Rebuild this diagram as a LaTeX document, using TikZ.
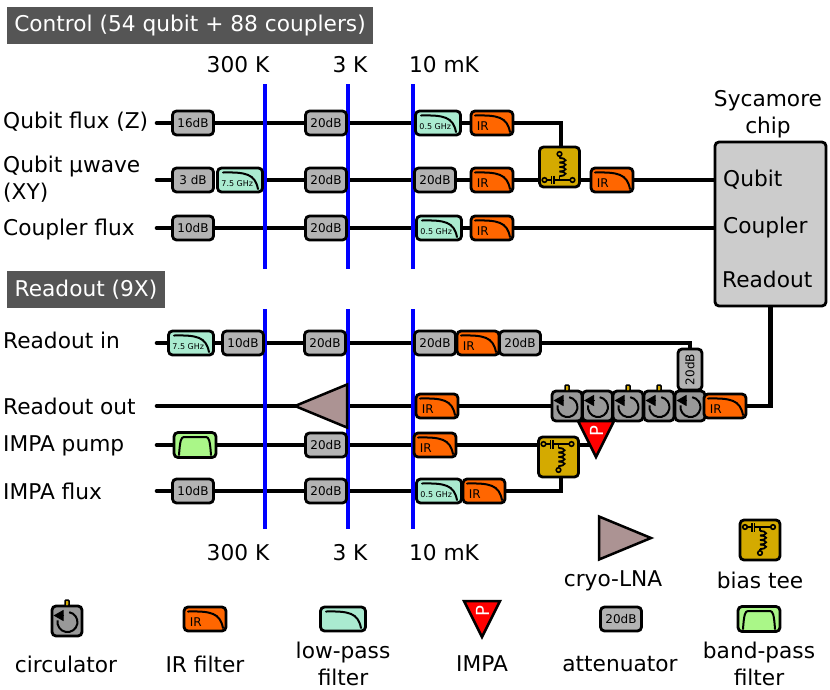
\documentclass[tikz,border=0pt]{standalone}
\usepackage{fontspec}
\setmainfont{DejaVu Sans}
\usepackage{amsmath}
\usetikzlibrary{arrows.meta,backgrounds,shapes.geometric}

\definecolor{irorange}{HTML}{FF6600}
\definecolor{lowmint}{HTML}{AAEBD0}
\definecolor{bandgreen}{HTML}{AAF788}
\definecolor{attgray}{HTML}{B3B3B3}
\definecolor{circgray}{HTML}{999999}
\definecolor{teegold}{HTML}{D4AA00}
\definecolor{lnamauve}{HTML}{AC9393}
\definecolor{chipgray}{HTML}{CCCCCC}
\definecolor{headgray}{HTML}{555555}

\newcommand{\teeglyph}{
    \draw[line width=1.8pt] (-15,13) -- (-8,13);
    \draw[line width=1.8pt] (-8,8.5) -- (-8,17);
    \draw[line width=1.8pt] (-5.5,8.5) -- (-5.5,17);
    \draw[line width=1.8pt] (-5.5,13) -- (13,13);
    \draw[line width=1.8pt] (0,-13) -- (0,-9);
    \draw[line width=1.8pt] (0,9) -- (0,13);
    \foreach \coilstep in {-9,-4.5,0,4.5} {
        \draw[line width=1.8pt] (0,\coilstep) arc[start angle=-90, end angle=90, x radius=6, y radius=2.25];
    }
    \draw[line width=1.6pt, fill=teegold] (-15,13) circle[radius=2.3];
    \draw[line width=1.6pt, fill=teegold] (13,13) circle[radius=2.3];
    \draw[line width=1.6pt, fill=teegold] (0,-13) circle[radius=2.3];
}

\tikzset{
    wire/.style={line width=4.6pt, line cap=round, line join=miter, black},
    cryoline/.style={line width=4pt, blue},
    partbox/.style={draw=black, line width=2.8pt, rounded corners=4pt, inner sep=0pt, outer sep=0pt},
    attbox/.style={partbox, fill=attgray, minimum width=41pt, minimum height=24pt, font={\fontsize{12}{12}\selectfont}},
    filtercurve/.style={path picture={
        \begin{scope}[shift={(path picture bounding box.center)}]
            \draw[line width=2pt, line cap=round] (-17,-7.5) .. controls (6,-8) and (15,-6) .. (18,9);
        \end{scope}}},
    irbox/.style={partbox, fill=irorange, filtercurve, minimum width=42pt, minimum height=24pt,
        label={[name=\tikzlastnode text, inner sep=0pt, xshift=-9.3pt, yshift=-2.7pt, font={\fontsize{12}{12}\selectfont}]center:IR}},
    lowbox/.style={partbox, fill=lowmint, filtercurve, minimum width=45pt, minimum height=24pt},
    lowtextbox/.style={lowbox,
        label={[name=\tikzlastnode text, inner sep=0pt, xshift=-2.7pt, yshift=-4pt, font={\fontsize{8}{8}\selectfont}]center:#1}},
    bandbox/.style={partbox, fill=bandgreen, minimum width=42pt, minimum height=25pt, path picture={
        \begin{scope}[shift={(path picture bounding box.center)}]
            \draw[line width=2pt, line cap=round] (-16,10) .. controls (-15,-4) and (-14,-8) .. (-7,-8) -- (7,-8) .. controls (14,-8) and (15,-4) .. (16,10);
        \end{scope}}},
    circbox/.style={partbox, fill=circgray, minimum width=30pt, minimum height=30pt, path picture={
        \begin{scope}[shift={(path picture bounding box.center)}]
            \draw[line width=2pt] (2.2,-8.8) arc[start angle=-80, end angle=190, radius=10];
            \draw[line width=1pt, -{Triangle[length=10pt, width=11pt]}] (-3,-5.5) -- (-13.5,-5.5);
        \end{scope}}},
    nubbox/.style={draw=black, line width=1.5pt, fill=teegold, rounded corners=1pt, inner sep=0pt, outer sep=0pt, minimum width=4pt, minimum height=6pt},
    teebox/.style={partbox, fill=teegold, minimum width=40pt, minimum height=40pt, path picture={
        \begin{scope}[shift={(path picture bounding box.center)}]
            \teeglyph
        \end{scope}}},
    teeflipbox/.style={partbox, fill=teegold, minimum width=40pt, minimum height=40pt, path picture={
        \begin{scope}[shift={(path picture bounding box.center)}, y=1pt]
            \teeglyph
        \end{scope}}},
    lnatri/.style={draw=black, line width=2.5pt, fill=lnamauve, isosceles triangle, isosceles triangle stretches, inner sep=0pt, outer sep=0pt, minimum height=52pt, minimum width=43pt, shape border rotate=#1},
    impatri/.style={draw=black, line width=2.5pt, fill=red, isosceles triangle, isosceles triangle stretches, inner sep=0pt, outer sep=0pt, minimum height=36pt, minimum width=36pt, shape border rotate=270},
    impap/.style={text=white, rotate=90, inner sep=0pt, font={\fontsize{18}{18}\selectfont}},
    chipbox/.style={partbox, fill=chipgray, minimum width=111pt, minimum height=164pt},
    headbox/.style={fill=headgray, text=white, inner sep=0pt, font={\fontsize{21.7}{22}\selectfont}},
    sidelabel/.style={anchor=west, inner sep=0pt, align=left, font={\fontsize{21.7}{27}\selectfont}},
    legendlabel/.style={inner sep=0pt, align=center, font={\fontsize{21.7}{27}\selectfont}}
}

\begin{document}
\begin{tikzpicture}[x=1pt, y=-1pt]
        \useasboundingbox (0, 0) rectangle (830, 689);

        \node[headbox, minimum width=366pt, minimum height=37pt] (headControl) at (190, 25.5) {Control (54 qubit + 88 couplers)};
        \node[headbox, minimum width=158pt, minimum height=37pt] (headReadout) at (86, 289.5) {Readout (9X)};

        \node[legendlabel] (topWarm) at (238, 65) {300 K};
        \node[legendlabel] (topMid) at (350, 65) {3 K};
        \node[legendlabel] (topCold) at (444, 65) {10 mK};
        \node[legendlabel] (botWarm) at (238, 553) {300 K};
        \node[legendlabel] (botMid) at (350, 553) {3 K};
        \node[legendlabel] (botCold) at (444, 553) {10 mK};

        \node[sidelabel] (nameZ) at (3, 122) {Qubit flux (Z)};
        \node[sidelabel] (nameXY) at (3, 179.5) {Qubit µwave\\(XY)};
        \node[sidelabel] (nameC) at (3, 229.5) {Coupler flux};
        \node[sidelabel] (nameIn) at (3, 340) {Readout in};
        \node[sidelabel] (nameOut) at (3, 406) {Readout out};
        \node[sidelabel] (namePump) at (3, 445.5) {IMPA pump};
        \node[sidelabel] (nameFlux) at (3, 491) {IMPA flux};

        \coordinate (startZ) at (157, 123);
        \coordinate (startXY) at (157, 180);
        \coordinate (startC) at (157, 228);
        \coordinate (startIn) at (157, 343);
        \coordinate (startOut) at (157, 406);
        \coordinate (startPump) at (157, 445);
        \coordinate (startFlux) at (157, 491);

        \node[attbox] (attZa) at (193, 123) {16dB};
        \node[attbox] (attZb) at (326, 123) {20dB};
        \node[lowtextbox=0.5 GHz] (lowZ) at (438, 123) {};
        \node[irbox] (irZ) at (492, 123) {};

        \node[attbox] (attXa) at (193, 180) {3 dB};
        \node[lowtextbox=7.5 GHz] (lowX) at (240, 180) {};
        \node[attbox] (attXb) at (326, 180) {20dB};
        \node[attbox] (attXc) at (435, 180) {20dB};
        \node[irbox] (irXa) at (492, 180) {};
        \node[teebox] (teeX) at (559.5, 167) {};
        \coordinate (teeXtop) at (561, 147);
        \coordinate (teeXin) at (539, 180);
        \coordinate (teeXout) at (579, 180);
        \node[irbox] (irXb) at (612, 180) {};

        \node[attbox] (attCa) at (193, 228) {10dB};
        \node[attbox] (attCb) at (326, 228) {20dB};
        \node[lowtextbox=0.5 GHz] (lowC) at (439, 228) {};
        \node[irbox] (irC) at (492, 228) {};

        \node[chipbox] (chip) at (770.5, 224) {};
        \node[legendlabel] (chipName) at (768, 114) {Sycamore\\chip};
        \node[sidelabel] (chipQubit) at (723, 180) {Qubit};
        \node[sidelabel] (chipCoupler) at (723, 228) {Coupler};
        \node[sidelabel] (chipReadout) at (722, 279) {Readout};

        \node[lowtextbox=7.5 GHz] (lowI) at (191, 343) {};
        \node[attbox] (attIa) at (243, 343) {10dB};
        \node[attbox] (attIb) at (325, 343) {20dB};
        \node[attbox] (attIc) at (435, 343) {20dB};
        \node[irbox] (irI) at (478, 343) {};
        \node[attbox] (attId) at (520, 343) {20dB};
        \node[attbox, rotate=90] (attIe) at (690, 369.5) {20dB};

        \node[lnatri=180, anchor=apex] (lnaO) at (295, 406) {};
        \node[irbox] (irOa) at (437, 406) {};
        \node[circbox] (circA) at (567, 406) {};
        \node[circbox] (circB) at (597.5, 406) {};
        \node[circbox] (circC) at (628, 406) {};
        \node[circbox] (circD) at (659, 406) {};
        \node[circbox] (circE) at (690, 406) {};
        \node[nubbox, anchor=south] (nubA) at (567, 391) {};
        \node[nubbox, anchor=south] (nubC) at (628, 391) {};
        \node[nubbox, anchor=south] (nubD) at (659, 391) {};
        \node[irbox] (irOb) at (725, 406) {};

        \node[bandbox] (bandP) at (195, 445) {};
        \node[attbox] (attP) at (326, 445) {20dB};
        \node[irbox] (irP) at (435, 445) {};
        \node[teeflipbox] (teeP) at (558.5, 457) {};
        \coordinate (teePbot) at (561, 477);
        \coordinate (teePin) at (539, 445);
        \coordinate (teePout) at (578, 445);
        \node[impatri, anchor=apex] (impaO) at (596, 457) {};
        \node[impap] (impaOp) at (596.5, 431) {P};
        \coordinate (impaIn) at (590, 445);

        \node[attbox] (attFa) at (193, 491) {10dB};
        \node[attbox] (attFb) at (326, 491) {20dB};
        \node[lowtextbox=0.5 GHz] (lowF) at (439, 491) {};
        \node[irbox] (irF) at (484, 491) {};

        \node[lnatri=0, anchor=apex] (lnaKey) at (651, 538) {};
        \node[legendlabel] (lnaName) at (613, 581) {cryo-LNA};
        \node[teeflipbox] (teeKey) at (760, 540) {};
        \node[legendlabel] (teeName) at (760, 580) {bias tee};
        \node[circbox] (circKey) at (67, 621) {};
        \node[nubbox, anchor=south] (nubKey) at (67, 606) {};
        \node[legendlabel] (circName) at (66, 664) {circulator};
        \node[irbox] (irKey) at (205, 619) {};
        \node[legendlabel] (irName) at (205, 664) {IR filter};
        \node[lowbox] (lowKey) at (343, 619) {};
        \node[legendlabel] (lowName) at (343, 663.5) {low-pass\\filter};
        \node[impatri, anchor=apex] (impaKey) at (482, 637) {};
        \node[impap] (impaKeyp) at (482.5, 611) {P};
        \node[legendlabel] (impaName) at (482, 664) {IMPA};
        \node[attbox] (attKey) at (621, 619) {20dB};
        \node[legendlabel] (attName) at (620, 664) {attenuator};
        \node[bandbox] (bandKey) at (759, 619) {};
        \node[legendlabel] (bandName) at (759, 663.5) {band-pass\\filter};

        \coordinate (warmTop) at (265, 84);
        \coordinate (warmUp) at (265, 269);
        \coordinate (warmDown) at (265, 309);
        \coordinate (warmBot) at (265, 529);
        \coordinate (midTop) at (348, 84);
        \coordinate (midUp) at (348, 269);
        \coordinate (midDown) at (348, 309);
        \coordinate (midBot) at (348, 529);
        \coordinate (coldTop) at (413, 84);
        \coordinate (coldUp) at (413, 269);
        \coordinate (coldDown) at (413, 309);
        \coordinate (coldBot) at (413, 529);

        \begin{scope}[on background layer]
            \draw[wire] (startZ) -- (attZa);
            \draw[wire] (attZa) -- (attZb);
            \draw[wire] (attZb) -- (lowZ);
            \draw[wire] (lowZ) -- (irZ);
            \draw[wire] (irZ) -| (teeXtop);

            \draw[wire] (startXY) -- (attXa);
            \draw[wire] (lowX) -- (attXb);
            \draw[wire] (attXb) -- (attXc);
            \draw[wire] (attXc) -- (irXa);
            \draw[wire] (irXa) -- (teeXin);
            \draw[wire] (teeXout) -- (irXb);
            \draw[wire] (irXb) -- (irXb -| chip.west);

            \draw[wire] (startC) -- (attCa);
            \draw[wire] (attCa) -- (attCb);
            \draw[wire] (attCb) -- (lowC);
            \draw[wire] (lowC) -- (irC);
            \draw[wire] (irC) -- (irC -| chip.west);

            \draw[wire] (startIn) -- (lowI);
            \draw[wire] (lowI) -- (attIa);
            \draw[wire] (attIa) -- (attIb);
            \draw[wire] (attIb) -- (attIc);
            \draw[wire] (attId) -| (attIe);
            \draw[wire] (attIe) -- (circE);

            \draw[wire] (startOut) -- (lnaO.apex);
            \draw[wire] (lnaO) -- (irOa);
            \draw[wire] (irOa) -- (circA);
            \draw[wire] (irOb) -| (chip.south);

            \draw[wire] (startPump) -- (bandP);
            \draw[wire] (bandP) -- (attP);
            \draw[wire] (attP) -- (irP);
            \draw[wire] (irP) -- (teePin);
            \draw[wire] (teePout) -- (impaIn);

            \draw[wire] (startFlux) -- (attFa);
            \draw[wire] (attFa) -- (attFb);
            \draw[wire] (attFb) -- (lowF);
            \draw[wire] (irF) -| (teePbot);

            \draw[cryoline] (warmTop) -- (warmUp);
            \draw[cryoline] (warmDown) -- (warmBot);
            \draw[cryoline] (midTop) -- (midUp);
            \draw[cryoline] (midDown) -- (midBot);
            \draw[cryoline] (coldTop) -- (coldUp);
            \draw[cryoline] (coldDown) -- (coldBot);
        \end{scope}
    \end{tikzpicture}
\end{document}
